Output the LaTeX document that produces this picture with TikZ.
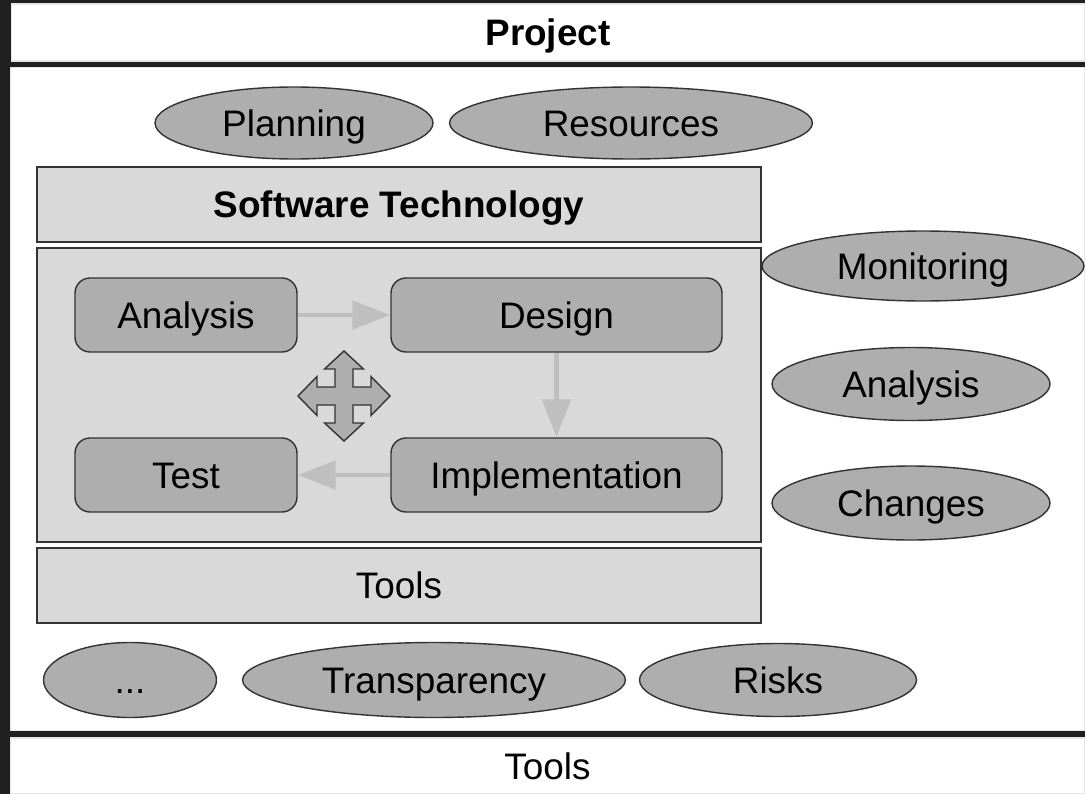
\documentclass[tikz,border=0pt]{standalone}
\usepackage{fontspec}
\setmainfont{Liberation Sans}
\usetikzlibrary{shapes.geometric,arrows.meta}
\definecolor{framegray}{HTML}{202020}
\definecolor{edgegray}{HTML}{E6E6E6}
\definecolor{linegray}{HTML}{333333}
\definecolor{layergray}{HTML}{D9D9D9}
\definecolor{shapegray}{HTML}{AEAEAE}
\definecolor{flowgray}{HTML}{BFBFBF}

\begin{document}
\begin{tikzpicture}[x=0.02cm,y=-0.02cm,
  every node/.style={font=\fontsize{21}{25}\selectfont,inner sep=0pt,text height=15pt,text depth=0pt},
  panel/.style={rectangle,fill=white,draw=edgegray,line width=0.6pt},
  layer/.style={rectangle,fill=layergray,draw=linegray,line width=0.8pt,minimum width=14.48cm},
  phase/.style={rectangle,rounded corners=0.3cm,fill=shapegray,draw=linegray,line width=0.8pt,minimum height=1.48cm},
  topic/.style={ellipse,fill=shapegray,draw=linegray,line width=0.8pt},
  flow/.style={draw=flowgray,line width=2.8pt,-{Triangle[length=0.76cm,width=0.56cm]}}]
\useasboundingbox (0,0) rectangle (1085,794);
\fill[framegray] (0,0) rectangle (1085,794);
\node[panel,minimum width=21.48cm,minimum height=1.14cm] (project) at (548,32.5) {\textbf{Project}};
\node[panel,minimum width=21.5cm,minimum height=13.28cm] (area) at (547.5,399) {};
\node[panel,minimum width=21.5cm,minimum height=1.12cm] (basetools) at (547.5,766) {Tools};

\node[topic,minimum width=5.56cm,minimum height=1.44cm] (planning) at (294,123) {Planning};
\node[topic,minimum width=7.26cm,minimum height=1.44cm] (resources) at (631,123) {Resources};

\node[layer,minimum height=1.5cm] (swtech) at (399,204.5) {\textbf{Software Technology}};
\node[layer,minimum height=5.88cm] (process) at (399,395) {};
\node[layer,minimum height=1.5cm] (tools) at (399,585.5) {Tools};

\node[phase,minimum width=4.44cm] (analysis) at (186,315) {Analysis};
\node[phase,minimum width=6.62cm] (design) at (556.5,315) {Design};
\node[phase,minimum width=4.44cm] (test) at (186,475) {Test};
\node[phase,minimum width=6.62cm] (impl) at (556.5,475) {Implementation};

\draw[flow] (analysis) -- (design);
\draw[flow] (design) -- (impl);
\draw[flow] (impl) -- (test);

\begin{scope}[shift={(344,396)}]
\draw[fill=shapegray,draw=linegray,line width=0.8pt,line join=miter]
  (0,-45) -- (19.5,-27) -- (9,-27) -- (9,-9) -- (27,-9) -- (27,-19.5) -- (46,0)
  -- (27,19.5) -- (27,9) -- (9,9) -- (9,27) -- (19.5,27) -- (0,45)
  -- (-19.5,27) -- (-9,27) -- (-9,9) -- (-27,9) -- (-27,19.5) -- (-46,0)
  -- (-27,-19.5) -- (-27,-9) -- (-9,-9) -- (-9,-27) -- (-19.5,-27) -- cycle;
\end{scope}

\node[topic,minimum width=6.44cm,minimum height=1.4cm] (monitoring) at (923,266) {Monitoring};
\node[topic,minimum width=5.56cm,minimum height=1.46cm] (analysis2) at (911,384) {Analysis};
\node[topic,minimum width=5.56cm,minimum height=1.48cm] (changes) at (911,503) {Changes};

\node[topic,minimum width=3.46cm,minimum height=1.5cm] (more) at (130,680) {...};
\node[topic,minimum width=7.66cm,minimum height=1.5cm] (transparency) at (434,680) {Transparency};
\node[topic,minimum width=5.54cm,minimum height=1.46cm] (risks) at (778,680) {Risks};
\end{tikzpicture}
\end{document}
